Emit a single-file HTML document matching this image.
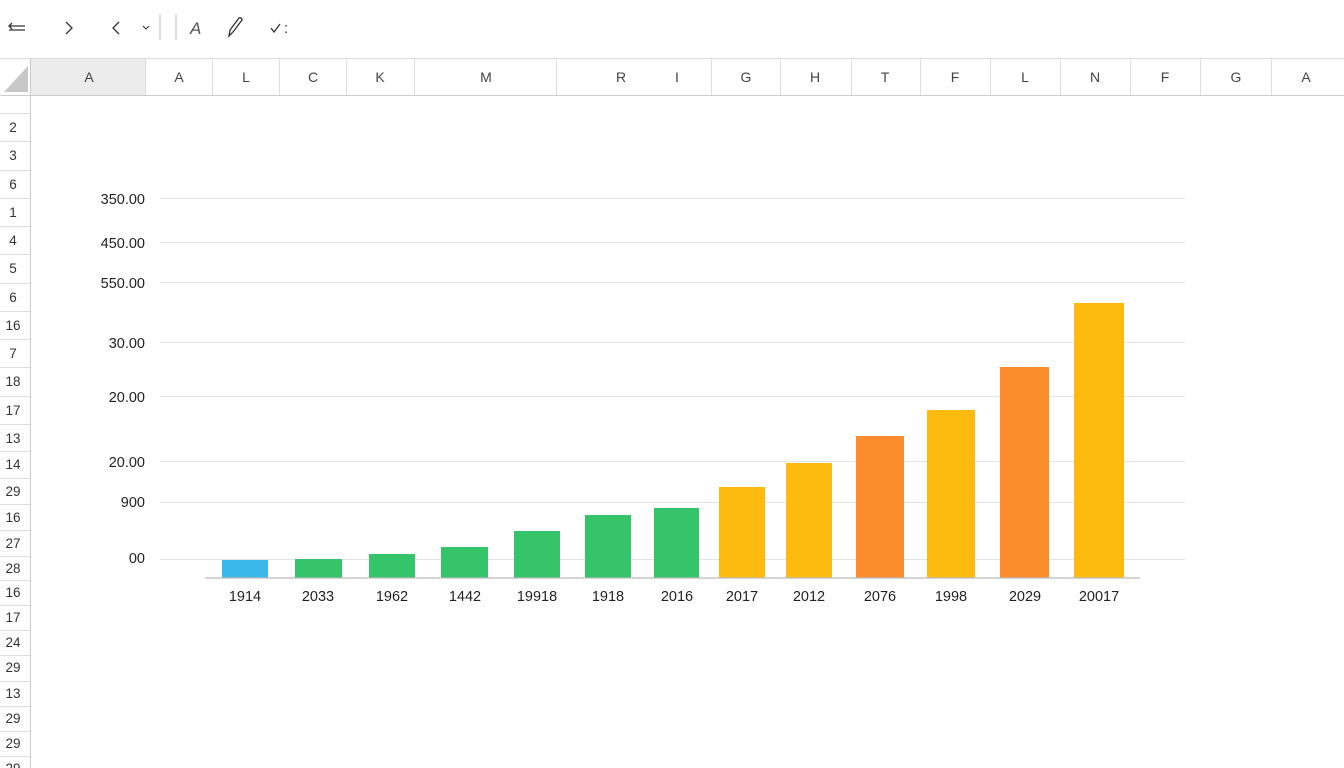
<!DOCTYPE html>
<html><head><meta charset="utf-8"><style>
html,body{margin:0;padding:0;background:#fff;}
body{width:1344px;height:768px;overflow:hidden;position:relative;font-family:"Liberation Sans","DejaVu Sans",sans-serif;color:#222;}
.a{position:absolute;}
</style></head><body>
<svg class="a" style="left:0;top:0" width="1344" height="768" xmlns="http://www.w3.org/2000/svg" font-family="Liberation Sans, DejaVu Sans, sans-serif">
<!-- toolbar -->
<g stroke="#333" stroke-width="1.3" fill="none">
<path d="M9 26 h16 M9 30 h16 M12 23 l-3 3 l3 3"/>
<path d="M66 22 l6 6 l-6 6"/>
<path d="M119 22 l-6 6 l6 6"/>
<path d="M143 26 l3 3 l3 -3" stroke-width="1"/>
<path d="M160 14 v26" stroke="#ccc"/>
<path d="M176 14 v26" stroke="#ccc"/>
<path d="M229 36 l4 -4 l9 -12 a2 2 0 0 0 -3 -2 l-9 12 z"/>
<path d="M271 28 l3 4 l6 -8"/>
</g>
<text x="190" y="34" font-size="17" fill="#555" font-style="italic">A</text>
<text x="284" y="33" font-size="15" fill="#333">:</text>
<!-- header row -->
<rect x="0" y="58" width="1344" height="38" fill="#fff"/>
<rect x="30" y="59" width="115" height="36" fill="#ececec"/>
<path d="M28 92 L28 66 L4 92 Z" fill="#c8c8c8"/>
<line x1="0" y1="58.5" x2="1344" y2="58.5" stroke="#ddd"/>
<line x1="0" y1="95.5" x2="1344" y2="95.5" stroke="#ccc"/>
<line x1="30.5" y1="58" x2="30.5" y2="768" stroke="#ccc"/>
<g stroke="#ddd">
<line x1="145.5" y1="58" x2="145.5" y2="95"/><line x1="212.5" y1="58" x2="212.5" y2="95"/><line x1="279.5" y1="58" x2="279.5" y2="95"/><line x1="346.5" y1="58" x2="346.5" y2="95"/><line x1="414.5" y1="58" x2="414.5" y2="95"/><line x1="556.5" y1="58" x2="556.5" y2="95"/><line x1="711.5" y1="58" x2="711.5" y2="95"/><line x1="780.5" y1="58" x2="780.5" y2="95"/><line x1="851.5" y1="58" x2="851.5" y2="95"/><line x1="920.5" y1="58" x2="920.5" y2="95"/><line x1="990.5" y1="58" x2="990.5" y2="95"/><line x1="1060.5" y1="58" x2="1060.5" y2="95"/><line x1="1130.5" y1="58" x2="1130.5" y2="95"/><line x1="1200.5" y1="58" x2="1200.5" y2="95"/><line x1="1271.5" y1="58" x2="1271.5" y2="95"/>
</g>
<g font-size="14" fill="#444" text-anchor="middle">
<text x="89" y="82">A</text><text x="179" y="82">A</text><text x="246" y="82">L</text><text x="313" y="82">C</text><text x="380" y="82">K</text><text x="486" y="82">M</text><text x="621" y="82">R</text><text x="677" y="82">I</text><text x="746" y="82">G</text><text x="815" y="82">H</text><text x="885" y="82">T</text><text x="955" y="82">F</text><text x="1025" y="82">L</text><text x="1095" y="82">N</text><text x="1165" y="82">F</text><text x="1236" y="82">G</text><text x="1306" y="82">A</text>
</g>
<!-- row headers -->
<g stroke="#ddd">
<line x1="0" y1="113.5" x2="30" y2="113.5"/><line x1="0" y1="141.5" x2="30" y2="141.5"/><line x1="0" y1="170.5" x2="30" y2="170.5"/><line x1="0" y1="198.5" x2="30" y2="198.5"/><line x1="0" y1="226.5" x2="30" y2="226.5"/><line x1="0" y1="254.5" x2="30" y2="254.5"/><line x1="0" y1="283.5" x2="30" y2="283.5"/><line x1="0" y1="311.5" x2="30" y2="311.5"/><line x1="0" y1="339.5" x2="30" y2="339.5"/><line x1="0" y1="367.5" x2="30" y2="367.5"/><line x1="0" y1="396.5" x2="30" y2="396.5"/><line x1="0" y1="424.5" x2="30" y2="424.5"/><line x1="0" y1="451.5" x2="30" y2="451.5"/><line x1="0" y1="478.5" x2="30" y2="478.5"/><line x1="0" y1="504.5" x2="30" y2="504.5"/><line x1="0" y1="530.5" x2="30" y2="530.5"/><line x1="0" y1="556.5" x2="30" y2="556.5"/><line x1="0" y1="580.5" x2="30" y2="580.5"/><line x1="0" y1="605.5" x2="30" y2="605.5"/><line x1="0" y1="630.5" x2="30" y2="630.5"/><line x1="0" y1="655.5" x2="30" y2="655.5"/><line x1="0" y1="681.5" x2="30" y2="681.5"/><line x1="0" y1="706.5" x2="30" y2="706.5"/><line x1="0" y1="731.5" x2="30" y2="731.5"/><line x1="0" y1="756.5" x2="30" y2="756.5"/>
</g>
<g font-size="13.5" fill="#333" text-anchor="middle">
<text x="13" y="132">2</text><text x="13" y="160">3</text><text x="13" y="189">6</text><text x="13" y="217">1</text><text x="13" y="245">4</text><text x="13" y="273">5</text><text x="13" y="302">6</text><text x="13" y="330">16</text><text x="13" y="358">7</text><text x="13" y="386">18</text><text x="13" y="415">17</text><text x="13" y="443">13</text><text x="13" y="469">14</text><text x="13" y="496">29</text><text x="13" y="522">16</text><text x="13" y="548">27</text><text x="13" y="573">28</text><text x="13" y="597">16</text><text x="13" y="622">17</text><text x="13" y="647">24</text><text x="13" y="672">29</text><text x="13" y="698">13</text><text x="13" y="723">29</text><text x="13" y="748">29</text><text x="13" y="773">29</text>
</g>
<!-- chart gridlines -->
<g stroke="#e3e3e3" stroke-width="1">
<line x1="160" y1="198.5" x2="1185" y2="198.5"/><line x1="160" y1="242.5" x2="1185" y2="242.5"/><line x1="160" y1="282.5" x2="1185" y2="282.5"/><line x1="160" y1="342.5" x2="1185" y2="342.5"/><line x1="160" y1="396.5" x2="1185" y2="396.5"/><line x1="160" y1="461.5" x2="1185" y2="461.5"/><line x1="160" y1="502.5" x2="1185" y2="502.5"/><line x1="160" y1="559.5" x2="1185" y2="559.5"/>
</g>
<g font-size="14.5" fill="#222" text-anchor="end">
<text x="145" y="204">350.00</text><text x="145" y="248">450.00</text><text x="145" y="288">550.00</text><text x="145" y="348">30.00</text><text x="145" y="402">20.00</text><text x="145" y="467">20.00</text><text x="145" y="507">900</text><text x="145" y="563">00</text>
</g>
<!-- bars -->
<rect x="222" y="560" width="46" height="18" fill="#3bb8ea"/>
<rect x="295" y="559" width="47" height="19" fill="#35c46a"/>
<rect x="369" y="554" width="46" height="24" fill="#35c46a"/>
<rect x="441" y="547" width="47" height="31" fill="#35c46a"/>
<rect x="514" y="531" width="46" height="47" fill="#35c46a"/>
<rect x="585" y="515" width="46" height="63" fill="#35c46a"/>
<rect x="654" y="508" width="45" height="70" fill="#35c46a"/>
<rect x="719" y="487" width="46" height="91" fill="#fdbb10"/>
<rect x="786" y="463" width="46" height="115" fill="#fdbb10"/>
<rect x="856" y="436" width="48" height="142" fill="#fb8c2c"/>
<rect x="927" y="410" width="48" height="168" fill="#fdbb10"/>
<rect x="1000" y="367" width="49" height="211" fill="#fb8c2c"/>
<rect x="1074" y="303" width="50" height="275" fill="#fdbb10"/>
<line x1="205" y1="578" x2="1140" y2="578" stroke="#bbb" stroke-width="1.2"/>
<g font-size="14.5" fill="#222" text-anchor="middle">
<text x="245" y="601">1914</text><text x="318" y="601">2033</text><text x="392" y="601">1962</text><text x="465" y="601">1442</text><text x="537" y="601">19918</text><text x="608" y="601">1918</text><text x="677" y="601">2016</text><text x="742" y="601">2017</text><text x="809" y="601">2012</text><text x="880" y="601">2076</text><text x="951" y="601">1998</text><text x="1025" y="601">2029</text><text x="1099" y="601">20017</text>
</g>
</svg>
</body></html>
